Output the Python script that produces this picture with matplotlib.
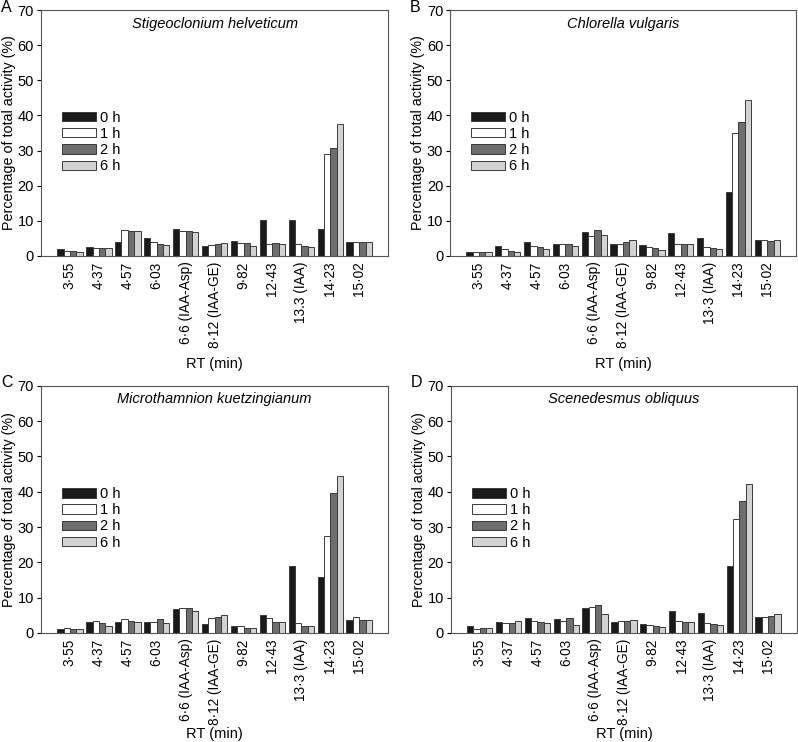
import numpy as np
import matplotlib.pyplot as plt

plt.rcParams['font.family'] = ['Liberation Sans', 'DejaVu Sans']
plt.rcParams['font.size'] = 10

times = ['0 h', '1 h', '2 h', '6 h']
colors = ['#1a1a1a', '#ffffff', '#6e6e6e', '#d2d2d2']

labels_a = ['3·55', '4·37', '4·57', '6·03', '6·6 (IAA-Asp)', '8·12 (IAA-GE)',
            '9·82', '12·43', '13.3 (IAA)', '14·23', '15·02']
labels_b = ['3·55', '4·37', '4·57', '6·03', '6·6 (IAA-Asp)', '8·12 (IAA-GE)',
            '9·82', '12·43', '13·3 (IAA)', '14·23', '15·02']

# rows: 0 h, 1 h, 2 h, 6 h
stigeo = [
    [1.9, 2.7, 3.9, 5.1, 7.6, 2.9, 4.3, 10.3, 10.3, 7.6, 3.9],
    [1.5, 2.4, 7.4, 4.1, 7.0, 3.1, 3.6, 3.5, 3.3, 29.0, 3.9],
    [1.3, 2.4, 7.2, 3.4, 7.1, 3.5, 3.6, 3.6, 2.9, 30.7, 4.1],
    [1.0, 2.4, 7.1, 3.0, 6.9, 3.8, 2.9, 3.3, 2.5, 37.7, 4.1],
]
chlorella = [
    [1.2, 2.9, 3.9, 3.5, 6.8, 3.3, 3.2, 6.5, 5.2, 18.2, 4.5],
    [1.0, 1.9, 2.9, 3.5, 5.6, 3.3, 2.5, 3.5, 2.5, 35.0, 4.5],
    [1.0, 1.5, 2.5, 3.5, 7.4, 3.9, 2.2, 3.5, 2.2, 38.0, 4.4],
    [1.0, 1.2, 1.9, 2.9, 5.9, 4.6, 1.8, 3.5, 1.9, 44.5, 4.5],
]
microth = [
    [1.2, 3.1, 3.1, 3.1, 6.9, 2.5, 2.1, 5.0, 19.0, 15.8, 3.6],
    [1.4, 3.5, 3.9, 3.0, 7.2, 4.1, 2.0, 4.1, 2.7, 27.6, 4.4],
    [1.2, 2.7, 3.5, 3.9, 7.0, 4.4, 1.5, 3.2, 2.0, 39.6, 3.7],
    [1.0, 1.9, 3.1, 2.8, 6.1, 5.0, 1.5, 3.2, 1.9, 44.4, 3.7],
]
scened = [
    [1.9, 3.2, 4.3, 3.9, 7.0, 3.0, 2.6, 6.3, 5.6, 18.9, 4.4],
    [1.2, 2.7, 3.5, 3.4, 7.4, 3.3, 2.3, 3.4, 2.8, 32.4, 4.4],
    [1.4, 2.7, 3.0, 4.1, 8.0, 3.3, 1.9, 3.1, 2.5, 37.5, 4.7],
    [1.4, 3.4, 2.8, 2.3, 5.3, 3.7, 1.6, 3.1, 2.2, 42.1, 5.5],
]

panels = [
    ('A', 'Stigeoclonium helveticum', stigeo, labels_a, [0.0514, 0.655, 0.435, 0.3315], -0.41),
    ('B', 'Chlorella vulgaris', chlorella, labels_b, [0.564, 0.655, 0.4336, 0.3315], -0.41),
    ('C', 'Microthamnion kuetzingianum', microth, labels_b, [0.0514, 0.147, 0.435, 0.333], -0.38),
    ('D', 'Scenedesmus obliquus', scened, labels_b, [0.565, 0.147, 0.4336, 0.333], -0.38),
]

fig = plt.figure(figsize=(7.98, 7.42), dpi=100)
w = 0.22
for letter, name, data, labels, pos, ylab in panels:
    ax = fig.add_axes(pos)
    x = np.arange(len(labels))
    for i, vals in enumerate(data):
        ax.bar(x + (i - 1.5) * w, vals, w, color=colors[i], edgecolor='#3a3a3a',
               linewidth=0.7, label=times[i])
    ax.set_xlim(-1, 11)
    ax.set_ylim(0, 70)
    ax.set_yticks(range(0, 71, 10))
    ax.set_xticks(x)
    ax.set_xticklabels(labels, rotation=90, fontsize=9.8)
    ax.tick_params(axis='x', length=0, pad=4)
    ax.tick_params(axis='y', length=3, direction='out', labelsize=10.5, pad=2)
    for s in ax.spines.values():
        s.set_color('#555555')
        s.set_linewidth(0.8)
    ax.set_ylabel('Percentage of total activity (%)', fontsize=10.3, labelpad=1)
    ax.set_xlabel('RT (min)', fontsize=10.5)
    ax.xaxis.set_label_coords(0.5, ylab)
    ax.text(0.5, 0.945, name, transform=ax.transAxes, ha='center', va='center',
            style='italic', fontsize=10.5)
    ax.legend(loc='upper left', bbox_to_anchor=(0.04, 0.62), frameon=False,
              borderpad=0, handlelength=2.3, handleheight=0.6, labelspacing=0.15,
              handletextpad=0.3, fontsize=10.5)
    fig.text(pos[0] - 0.05, pos[1] + pos[3] + 0.004, letter, fontsize=11.5,
             ha='left', va='center')

fig.savefig('out.png', dpi=100)
